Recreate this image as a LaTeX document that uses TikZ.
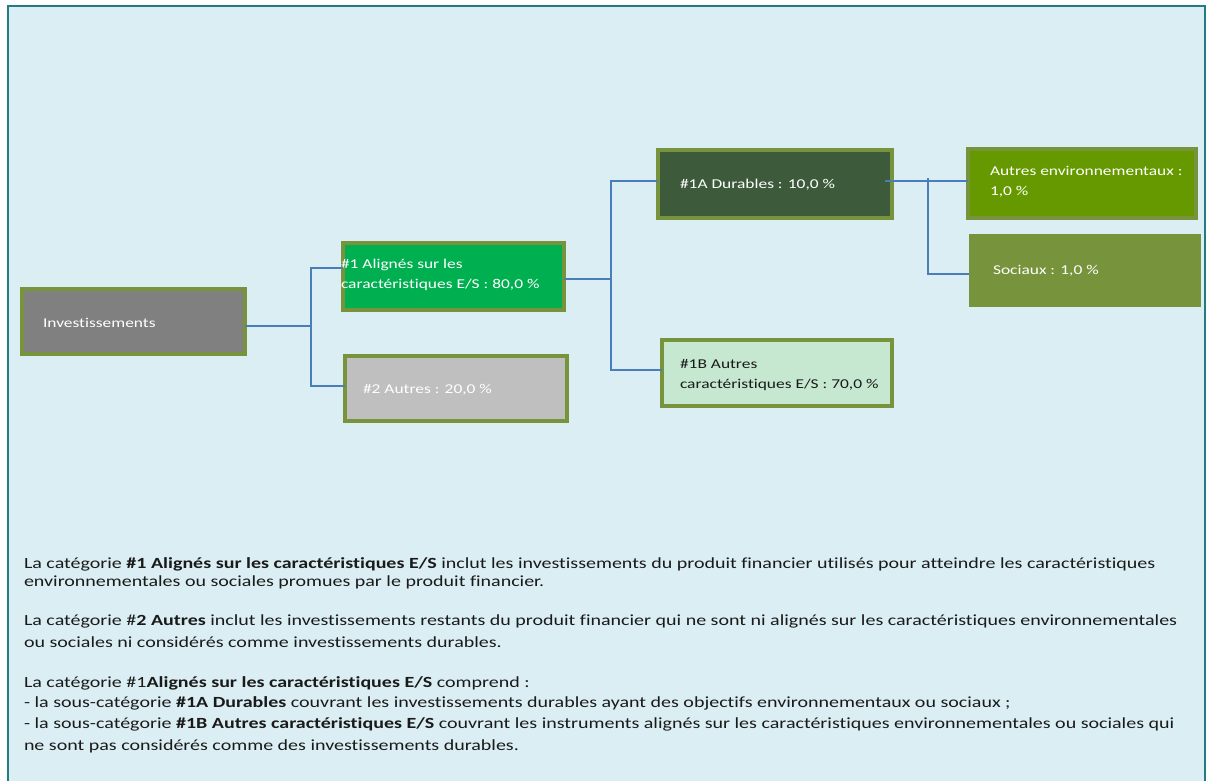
\documentclass[tikz,border=0pt]{standalone}
\usepackage{fontspec}
\setmainfont{Carlito}[FakeStretch=1.29,Ligatures=NoCommon]
\definecolor{bgblue}{HTML}{DAEEF3}
\definecolor{frameteal}{HTML}{217C83}
\definecolor{olive}{HTML}{77933C}
\definecolor{invgray}{HTML}{808080}
\definecolor{algreen}{HTML}{00B050}
\definecolor{autgray}{HTML}{BFBFBF}
\definecolor{durgreen}{HTML}{3D5B3B}
\definecolor{bgreen}{HTML}{C6E8D0}
\definecolor{envgreen}{HTML}{669900}
\definecolor{linkblue}{HTML}{4A7EBB}
\definecolor{textdark}{HTML}{1A1A1A}
\begin{document}
\begin{tikzpicture}[x=1pt,y=-1pt,
  boxshape/.style={draw=olive,line width=4pt,inner sep=0pt,outer sep=0pt,rectangle},
  boxtext/.style={anchor=west,inner sep=0pt,outer sep=0pt,font=\fontsize{13.5}{20}\selectfont,align=left,text=white},
  link/.style={draw=linkblue,line width=1.4pt},
  para/.style={anchor=base west,inner sep=0pt,outer sep=0pt,font=\fontsize{15.5}{20}\selectfont,text=textdark}]
\useasboundingbox (0,0) rectangle (1208,781);
\fill[white] (0,0) rectangle (1208,781);
\filldraw[fill=bgblue,draw=frameteal,line width=2pt] (8,790) -- (8,6) -- (1205,6) -- (1205,790);
% boxes
\node[boxshape,fill=invgray,minimum width=223pt,minimum height=65pt] (inv) at (133.5,321.5) {};
\node[boxshape,fill=algreen,minimum width=221pt,minimum height=67pt] (al) at (453.5,276.5) {};
\node[boxshape,fill=autgray,minimum width=222pt,minimum height=65pt] (aut) at (456,388.5) {};
\node[boxshape,fill=durgreen,minimum width=234pt,minimum height=68pt] (dur) at (775,184) {};
\node[boxshape,fill=bgreen,minimum width=230pt,minimum height=66pt] (oth) at (777,373) {};
\node[boxshape,fill=envgreen,minimum width=228pt,minimum height=69pt] (env) at (1082,183.5) {};
\node[boxshape,draw=olive,fill=olive,line width=0pt,minimum width=231pt,minimum height=72pt] (soc) at (1084.5,270) {};
% texts
\node[boxtext] (tinv) at (43,323) {Investissements};
\node[boxtext] (tal) at (341,275) {\#1 Alignés sur les\\caractéristiques E/S : 80,0 \%};
\node[boxtext] (taut) at (363,390) {\#2 Autres : 20,0 \%};
\node[boxtext] (tdur) at (680,185) {\#1A Durables : 10,0 \%};
\node[boxtext,text=textdark] (toth) at (680,375) {\#1B Autres\\caractéristiques E/S : 70,0 \%};
\node[boxtext] (tenv) at (990,182) {Autres environnementaux :\\1,0 \%};
\node[boxtext] (tsoc) at (993,271) {Sociaux : 1,0 \%};
% connectors
\coordinate (j1) at (311,326);
\coordinate (j2) at (611,279);
\coordinate (j3) at (928,181);
\draw[link] (inv.east |- j1) -- (j1);
\draw[link] (j1) -- (311,268) -- (al.west |- 0,268);
\draw[link] (j1) -- (311,386) -- (aut.west |- 0,386);
\draw[link] (al.east |- j2) -- (j2);
\draw[link] (j2) -- (611,181) -- (dur.west |- 0,181);
\draw[link] (j2) -- (611,370) -- (oth.west |- 0,370);
\draw[link] (885,181) -- (env.west |- 0,181);
\draw[link] (928,178) -- (928,274) -- (soc.west |- 0,274);
% paragraphs
\node[para] (p1) at (24,568) {La catégorie \textbf{\#1 Alignés sur les caractéristiques E/S} inclut les investissements du produit financier utilisés pour atteindre les caractéristiques};
\node[para] (p2) at (24,586) {environnementales ou sociales promues par le produit financier.};
\node[para] (p3) at (24,625) {La catégorie \#\textbf{2 Autres} inclut les investissements restants du produit financier qui ne sont ni alignés sur les caractéristiques environnementales};
\node[para] (p4) at (24,647) {ou sociales ni considérés comme investissements durables.};
\node[para] (p5) at (24,687) {La catégorie \#1\textbf{Alignés sur les caractéristiques E/S} comprend :};
\node[para] (p6) at (24,707) {- la sous-catégorie \textbf{\#1A Durables} couvrant les investissements durables ayant des objectifs environnementaux ou sociaux ;};
\node[para] (p7) at (24,728) {- la sous-catégorie \textbf{\#1B Autres caractéristiques E/S} couvrant les instruments alignés sur les caractéristiques environnementales ou sociales qui};
\node[para] (p8) at (24,750) {ne sont pas considérés comme des investissements durables.};
\end{tikzpicture}
\end{document}
